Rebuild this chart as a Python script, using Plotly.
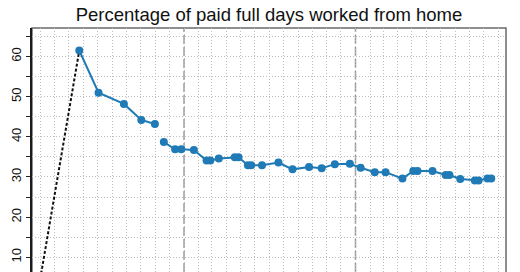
import plotly.graph_objects as go

# Share of paid full working days done from home (per cent)
pre_dates = ["2020-03-01", "2020-05-23"]
pre_values = [4.7, 61.5]

early_dates = ["2020-05-23", "2020-07-03", "2020-08-26", "2020-10-02", "2020-10-31"]
early_values = [61.5, 51.0, 48.2, 44.2, 43.2]

late_dates = [
    "2020-11-19", "2020-12-13", "2020-12-26", "2021-01-22", "2021-02-18",
    "2021-02-26", "2021-03-16", "2021-04-19", "2021-04-27", "2021-05-17",
    "2021-05-24", "2021-06-16", "2021-07-21", "2021-08-20", "2021-09-24",
    "2021-10-21", "2021-11-18", "2021-12-20", "2022-01-12", "2022-02-11",
    "2022-03-06", "2022-04-11", "2022-05-04", "2022-05-13", "2022-06-14",
    "2022-07-12", "2022-07-20", "2022-08-12", "2022-09-12", "2022-09-20",
    "2022-10-09", "2022-10-17",
]
late_values = [
    38.7, 36.9, 36.9, 36.7, 34.1,
    34.1, 34.6, 34.9, 34.9, 32.9,
    32.9, 32.9, 33.6, 31.9, 32.5,
    32.2, 33.2, 33.3, 32.3, 31.2,
    31.2, 29.6, 31.5, 31.5, 31.5,
    30.5, 30.5, 29.5, 29.1, 29.1,
    29.6, 29.6,
]

year_marks = ["2021-01-01", "2022-01-01"]
y_tick_vals = [10, 15, 20, 25, 30, 35, 40, 45, 50, 55, 60, 65]
y_tick_text = ["10", "", "20", "", "30", "", "40", "", "50", "", "60", ""]

BLUE = "#1f7ab5"
GRID = "#bdbdbd"
FONT = "Liberation Sans, Arial, Helvetica, sans-serif"

fig = go.Figure()

fig.add_trace(go.Scatter(
    x=pre_dates, y=pre_values, mode="lines",
    line=dict(color="#111111", width=2, dash="3px,2px"),
    hoverinfo="skip", showlegend=False,
))
for xs, ys in ((early_dates, early_values), (late_dates, late_values)):
    fig.add_trace(go.Scatter(
        x=xs, y=ys, mode="lines+markers",
        line=dict(color=BLUE, width=2),
        marker=dict(color=BLUE, size=8),
        showlegend=False,
    ))

for d in year_marks:
    fig.add_shape(
        type="line", xref="x", yref="paper", x0=d, x1=d, y0=0, y1=1,
        line=dict(color="#999999", width=1.5, dash="9px,3px"), layer="below",
    )

# frame around the plotting region
fig.add_shape(
    type="rect", xref="paper", yref="paper", x0=0, x1=1, y0=-0.01, y1=1,
    line=dict(color="#6a6a6a", width=1.5), layer="below",
)

fig.update_layout(
    width=520, height=272,
    margin=dict(l=32, r=14, t=28, b=0),
    paper_bgcolor="white", plot_bgcolor="white",
    font=dict(family=FONT, color="#111111"),
    title=dict(
        text="Percentage of paid full days worked from home",
        x=0.5, xref="paper", xanchor="center",
        y=1 - 15 / 272, yref="container", yanchor="middle",
        font=dict(size=18.5, color="#111111", family=FONT),
    ),
    xaxis=dict(
        type="date",
        range=["2020-02-12 08:00", "2022-11-17 10:00"],
        tick0="2020-03-01", dtick="M1",
        showticklabels=False, ticks="",
        showgrid=True, gridcolor=GRID, gridwidth=1, griddash="1px,2px",
        zeroline=False, showline=False,
    ),
    yaxis=dict(
        range=[6.34, 67.1],
        tickvals=y_tick_vals, ticktext=y_tick_text,
        tickangle=-90, tickfont=dict(size=13, color="#111111", family=FONT),
        ticks="outside", ticklen=4, tickcolor="#222222",
        showgrid=True, gridcolor=GRID, gridwidth=1, griddash="1px,2px",
        zeroline=False, showline=True, linecolor="#1a1a1a", linewidth=1.5,
    ),
)

fig.write_html("out.html")
